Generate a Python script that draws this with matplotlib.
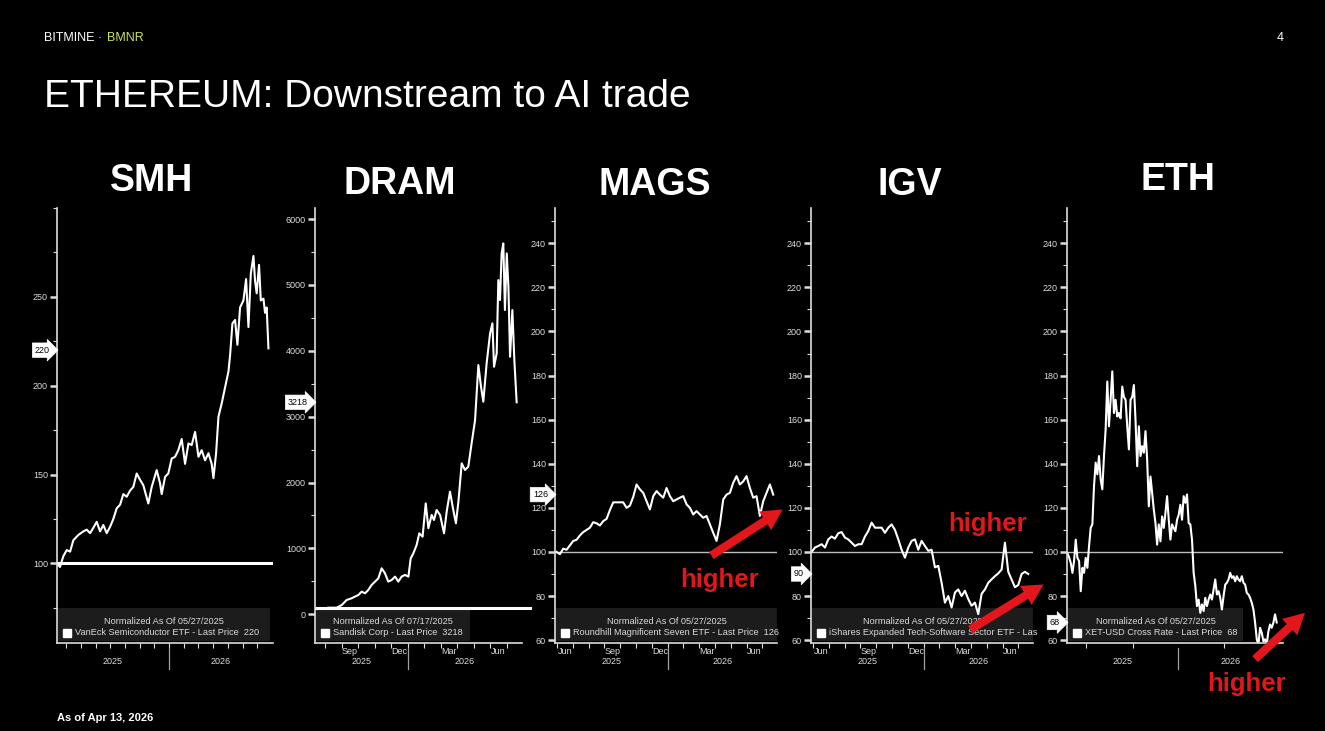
import numpy as np
import matplotlib.pyplot as plt
import matplotlib.font_manager as fm
from matplotlib.patches import FancyArrowPatch, Rectangle

plt.rcParams['font.family'] = ['Liberation Sans', 'DejaVu Sans']

W, H = 1325, 731
FG = '#dcdcdc'
RED = '#e3161b'

# x values: months counted from Jan 2025 (12 = Jan 2026); y: normalized price
smh_x = [4.47, 4.58, 4.81, 5.04, 5.27, 5.49, 5.83, 6.17, 6.40, 6.63,
         6.85, 7.08, 7.31, 7.53, 7.76, 7.99, 8.21, 8.44, 8.67, 8.89,
         9.12, 9.35, 9.57, 9.80, 10.03, 10.25, 10.59, 10.82, 11.16, 11.39,
         11.50, 11.73, 11.95, 12.18, 12.41, 12.63, 12.86, 13.09, 13.32, 13.54,
         13.77, 14.00, 14.22, 14.45, 14.68, 14.90, 15.02, 15.20, 15.36, 15.58,
         15.81, 16.04, 16.15, 16.31, 16.49, 16.65, 16.83, 17.06, 17.24, 17.40,
         17.56, 17.74, 17.85, 17.96, 18.12, 18.24, 18.42, 18.53, 18.64, 18.76]
smh_y = [99, 98, 104, 107.5, 106.6, 113, 116, 118, 119, 117,
         120, 123.4, 118, 121.6, 117, 120.6, 125, 131, 133, 139,
         137.5, 141, 143, 150.6, 147, 144, 133.7, 143, 152.5, 145,
         139, 148.7, 150.6, 159, 160, 163.7, 170, 156, 167.5, 166.6,
         174, 160, 163.7, 158, 162, 156, 148, 162, 182.5, 190,
         199, 208, 217, 235, 237, 223, 244, 248, 260, 233,
         263, 273, 259, 252, 268, 248, 249, 241, 244, 221]

dram_x = [7.19, 7.69, 8.00, 8.30, 8.60, 8.80, 9.01, 9.21, 9.41, 9.61,
          9.81, 10.02, 10.22, 10.42, 10.62, 10.82, 11.03, 11.23, 11.43, 11.63,
          11.83, 12.04, 12.18, 12.34, 12.54, 12.70, 12.90, 13.09, 13.25, 13.45,
          13.59, 13.75, 13.96, 14.20, 14.36, 14.56, 14.76, 14.92, 15.07, 15.27,
          15.47, 15.67, 15.87, 16.08, 16.28, 16.44, 16.58, 16.78, 16.99, 17.13,
          17.23, 17.39, 17.49, 17.59, 17.69, 17.79, 17.89, 18.00, 18.10, 18.20,
          18.34, 18.46, 18.60]
dram_y = [100, 100, 140, 217, 243, 268, 293, 344, 318, 369,
          445, 496, 546, 698, 622, 496, 521, 572, 496, 572,
          597, 572, 850, 925, 1052, 1229, 1178, 1684, 1305, 1507,
          1431, 1583, 1507, 1229, 1558, 1861, 1583, 1381, 1710, 2291,
          2190, 2240, 2594, 2948, 3783, 3454, 3227, 3808, 4264, 4416,
          3758, 3960, 5073, 4770, 5478, 5629, 4618, 5478, 4972, 3909,
          4618, 3859, 3218]

# evenly spaced readings between first and last month
mags_span = (4.97, 18.68)
mags_y = [100, 99, 101.5, 101, 103, 105, 105.5, 107.5, 109, 110,
          111, 113.5, 113, 112, 114, 115, 119, 122.5, 122.5, 122.5,
          122.5, 120, 121, 125, 130.6, 128.4, 126.8, 123, 119.3, 125.3,
          127.6, 126, 124.6, 129, 125.3, 123, 123.8, 124.6, 125.3, 121.6,
          120, 117, 118.5, 117, 115.5, 116.3, 112.5, 108.7, 105, 112.5,
          123.8, 126, 126.8, 131.4, 134.4, 130.6, 132, 134.4, 129, 124.6,
          125.3, 116.3, 123, 126.8, 130.6, 126]

igv_span = (4.91, 18.62)
igv_y = [100, 102, 102.7, 103.5, 102, 105.7, 107, 106, 108.5, 109,
         106.5, 105.7, 104.2, 102.7, 103.5, 103.5, 107, 109.5, 113.3, 111,
         111, 111, 108.7, 111, 112.5, 110, 105.7, 101, 97.4, 102,
         105, 105.7, 101, 105, 102.7, 100.5, 101, 93, 93.7, 86,
         77, 80, 74.8, 81.6, 83, 80, 82.4, 78.6, 75.6, 77,
         71.8, 81, 83, 86, 87.6, 89, 90.3, 92, 104.2, 91,
         87.5, 84, 85, 90, 91, 90]

eth_span = (4.43, 18.71)
eth_y = [99.5, 97.5, 95, 90.5, 95.9, 105.6, 97.3, 95.9, 82.2, 92.8,
         90.5, 97.3, 92.8, 102.6, 110.9, 112.5, 129.9, 140.5, 135.2, 143.5,
         132.9, 128.4, 143.5, 155.6, 177.3, 157, 169, 181.9, 163, 169,
         161.4, 163, 160.6, 175, 170.3, 169, 157, 146.5, 169, 170.3,
         175.7, 159.8, 138.9, 157, 143.5, 148, 145, 154.8, 141.8, 120.7,
         134.2, 126.8, 119.2, 113.1, 103.3, 112.5, 104.8, 116.1, 110.9, 117.6,
         125.3, 114.6, 105.6, 112.5, 110.9, 109.4, 114.6, 116.9, 121.4, 114.6,
         125.3, 122.3, 126.1, 113.1, 112.5, 105.6, 90.5, 84.5, 75.4, 78.4,
         72.4, 76.2, 73.2, 79.2, 75.4, 78.4, 80.7, 78.4, 83, 87.5,
         80.7, 82.2, 79.2, 73.9, 79.9, 85.2, 86, 87.5, 90.5, 88.2,
         89, 86.7, 89, 87.5, 86.7, 89, 86, 85.2, 81.4, 80.7,
         79.2, 76.9, 73.9, 67.9, 60.4, 58, 65.6, 63.3, 59.5, 60.4,
         58, 64, 67.1, 65.6, 67.9, 71.7, 68]

titles = ['SMH', 'DRAM', 'MAGS', 'IGV', 'ETH']
last_prices = [220, 3218, 126, 90, 68]
norm_dates = ['05/27/2025', '07/17/2025', '05/27/2025', '05/27/2025', '05/27/2025']
legend_labels = ['VanEck Semiconductor ETF - Last Price  220',
                 'Sandisk Corp - Last Price  3218',
                 'Roundhill Magnificent Seven ETF - Last Price  126',
                 'iShares Expanded Tech-Software Sector ETF - Las',
                 'XET-USD Cross Rate - Last Price  68']

narrow = any(f.name == 'Liberation Sans Narrow' for f in fm.fontManager.ttflist)

fig = plt.figure(figsize=(W / 100, H / 100), dpi=100, facecolor='black')


def fpos(x, y):
    return x / W, 1 - y / H


def make_axes(l, r):
    ax = fig.add_axes([l / W, 1 - 643 / H, (r - l) / W, (643 - 208) / H])
    ax.set_facecolor('black')
    ax.spines[['top', 'right']].set_visible(False)
    ax.spines[['left', 'bottom']].set_color(FG)
    ax.spines[['left', 'bottom']].set_linewidth(1.2)
    ax.tick_params(which='both', colors=FG, labelsize=6.5)
    ax.tick_params(axis='y', which='major', length=5, width=1.8, pad=1.5)
    ax.tick_params(axis='y', which='minor', length=3, width=0.8)
    ax.tick_params(axis='x', which='major', length=3.5, width=0.8, labelbottom=False)
    ax.tick_params(axis='x', which='minor', length=0, pad=3.2)
    return ax


def time_axis(ax, xlim, ticks, sep, months=None, right=None):
    ax.set_xlim(*xlim)
    ax.set_xticks(ticks)
    if months:
        ax.set_xticks([m for m, _ in months], [s for _, s in months], minor=True)
    right = xlim[1] if right is None else right
    ax.spines['bottom'].set_bounds(xlim[0], right)
    tr = ax.get_xaxis_transform()
    ax.plot([sep, sep], [-0.012, -0.06], transform=tr, color='#a0a0a0', lw=0.9, clip_on=False)
    for c, s in [((xlim[0] + sep) / 2, '2025'), ((sep + right) / 2, '2026')]:
        ax.text(c, -0.043, s, transform=tr, ha='center', va='center', fontsize=6.5, color=FG)


def legend_box(ax, x1, date, label):
    w = ax.get_position().width * W
    ax.add_patch(Rectangle((0.005, 0.005), x1 - 0.005, 0.075, transform=ax.transAxes,
                           fc='#1c1c1c', ec='none', zorder=1))
    ax.text((0.005 + x1) / 2, 0.05, f'Normalized As Of {date}', transform=ax.transAxes,
            ha='center', va='center', fontsize=6.6, color=FG, zorder=3)
    ax.plot(0.005 + 9 / w, 0.024, marker='s', ms=5.5, color='white', transform=ax.transAxes,
            clip_on=False, zorder=3)
    ax.text(0.005 + 17 / w, 0.024, label, transform=ax.transAxes, ha='left', va='center',
            fontsize=6.6, color=FG, zorder=3)


def price_tag(ax, v):
    ax.annotate(f'{v}', xy=(0, v), xycoords=ax.get_yaxis_transform(), xytext=(-5, 0),
                textcoords='offset points', ha='right', va='center', fontsize=6.5, color='black',
                bbox=dict(boxstyle='rarrow,pad=0.3', fc='white', ec='white', lw=0.5),
                annotation_clip=False, zorder=5)


month_lbl = [(5.5, 'Jun'), (8.5, 'Sep'), (11.5, 'Dec'), (14.5, 'Mar'), (17.5, 'Jun')]
norm_ticks = np.arange(60, 241, 20)
norm_minor = np.arange(70, 251, 20)

# SMH
ax = make_axes(57, 273)
ax.axhline(100, color='white', lw=2.2, zorder=2)
ax.plot(smh_x, smh_y, color='white', lw=1.5, zorder=2)
ax.set_ylim(55.2, 300)
ax.set_yticks([100, 150, 200, 250])
ax.set_yticks([75, 125, 175, 225, 275, 300], minor=True)
time_axis(ax, (4.38, 19.07), np.arange(5, 19), 12)
legend_box(ax, 0.986, norm_dates[0], legend_labels[0])
price_tag(ax, last_prices[0])

# DRAM
ax = make_axes(315, 532)
ax.axhline(100, color='white', lw=2.2, zorder=2)
ax.plot(dram_x, dram_y, color='white', lw=1.5, zorder=2)
ax.set_ylim(-436, 6167)
ax.set_yticks(np.arange(0, 6001, 1000))
ax.set_yticks(np.arange(500, 6001, 1000), minor=True)
time_axis(ax, (6.38, 19.53), np.arange(7, 19), 12, month_lbl[1:], right=18.93)
legend_box(ax, 0.714, norm_dates[1], legend_labels[1])
price_tag(ax, last_prices[1])

# MAGS, IGV
for l, r, span, vals, i in [(555, 777, mags_span, mags_y, 2), (811, 1033, igv_span, igv_y, 3)]:
    ax = make_axes(l, r)
    ax.axhline(100, color='#bdbdbd', lw=1.0, zorder=2)
    ax.plot(np.linspace(span[0], span[1], len(vals)), vals, color='white', lw=1.5, zorder=2)
    ax.set_ylim(58.7, 256)
    ax.set_yticks(norm_ticks)
    ax.set_yticks(norm_minor, minor=True)
    time_axis(ax, (4.87, 18.92), np.arange(5, 19), 12, month_lbl)
    legend_box(ax, 1.0, norm_dates[i], legend_labels[i])
    price_tag(ax, last_prices[i])

# ETH
ax = make_axes(1067, 1283)
ax.axhline(100, color='#bdbdbd', lw=1.0, zorder=2)
ax.plot(np.linspace(eth_span[0], eth_span[1], len(eth_y)), eth_y, color='white', lw=1.5, zorder=2)
ax.set_ylim(58.7, 256)
ax.set_yticks(norm_ticks)
ax.set_yticks(norm_minor, minor=True)
time_axis(ax, (4.40, 19.14), [5.7, 8.9, 15.1], 12)
legend_box(ax, 0.815, norm_dates[4], legend_labels[4])
price_tag(ax, last_prices[4])

# panel titles
for t, (x, y) in zip(titles, [(152, 191), (400, 194), (655, 195), (910, 195), (1178, 190)]):
    fig.text(*fpos(x, y), t, ha='center', va='baseline', fontsize=27, fontweight='bold', color='white')

# red callouts
hfont = dict(family=['Liberation Sans Narrow', 'Liberation Sans'], fontsize=22) if narrow \
    else dict(fontsize=18.5)
for (x0, y0, x1, y1), (tx, ty) in [((709, 557, 785, 508), (720, 580)),
                                   ((968, 631, 1046, 583), (988, 524)),
                                   ((1253, 661, 1307, 611), (1247, 684))]:
    fig.add_artist(FancyArrowPatch(fpos(x0, y0), fpos(x1, y1), transform=fig.transFigure,
                                   arrowstyle='simple,head_length=0.75,head_width=0.8,tail_width=0.3',
                                   mutation_scale=20, color=RED, lw=0))
    fig.text(*fpos(tx, ty), 'higher', ha='center', va='center', color=RED, fontweight='bold', **hfont)

# header / footer
fig.text(*fpos(44, 41), 'BITMINE · ', fontsize=9, color='white', va='baseline')
fig.text(*fpos(107, 41), 'BMNR', fontsize=9, color='#cde05c', va='baseline')
fig.text(*fpos(1284, 41), '4', fontsize=9, color='white', va='baseline', ha='right')
fig.text(*fpos(44, 107), 'ETHEREUM: Downstream to AI trade', fontsize=28, color='white', va='baseline')
fig.text(*fpos(57, 718), 'As of Apr 13, 2026', fontsize=8, fontweight='bold', color='white', va='center')

fig.savefig('out.png', dpi=100, facecolor='black')
